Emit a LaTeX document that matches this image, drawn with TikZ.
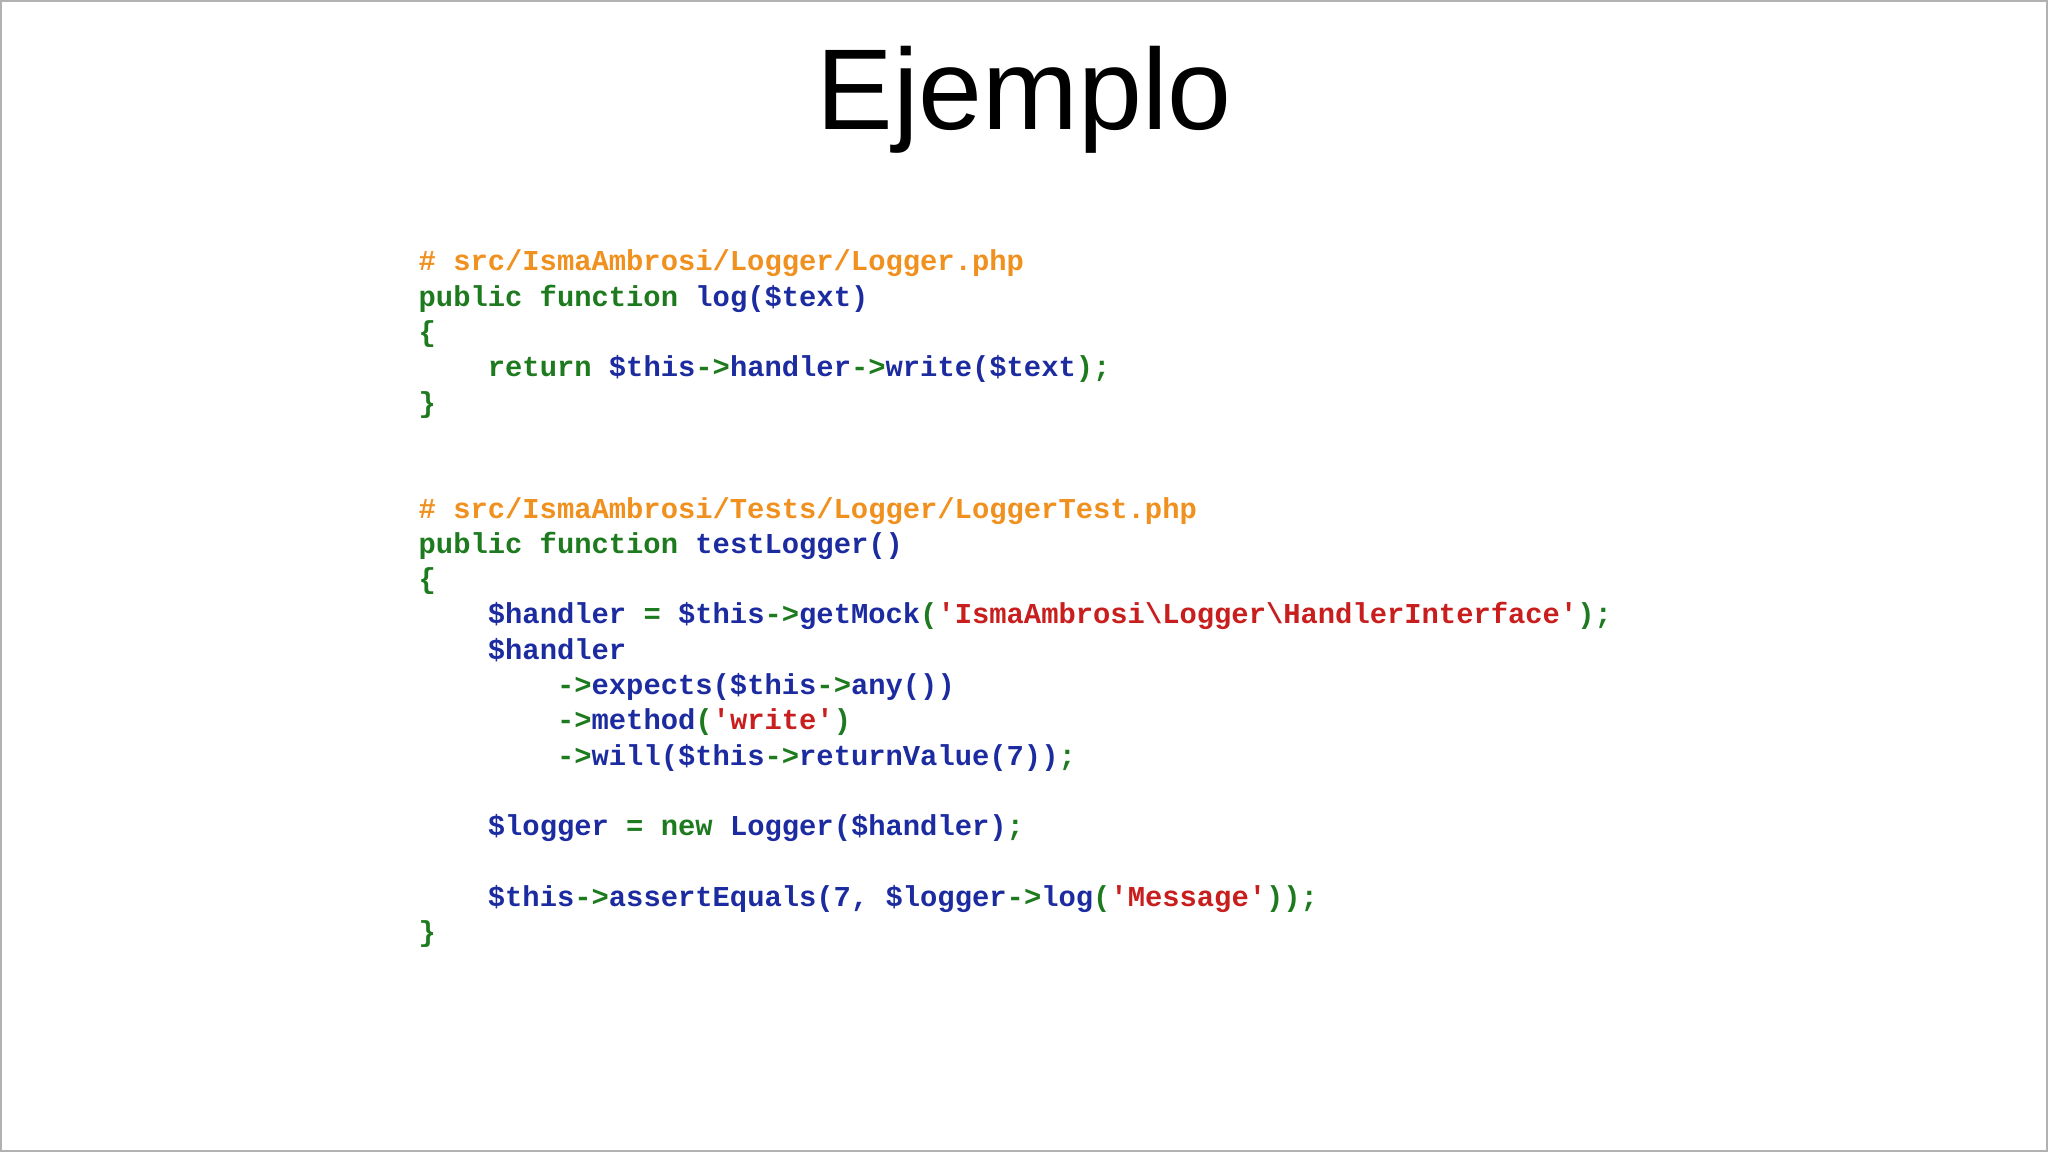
\documentclass[tikz,border=0pt]{standalone}
\usepackage{fontspec}
\setmainfont{Liberation Sans}
\setmonofont{Liberation Mono}
\definecolor{kor}{HTML}{F0901E}
\definecolor{kgr}{HTML}{1E7A1E}
\definecolor{kbl}{HTML}{1C2CA0}
\definecolor{krd}{HTML}{C81E1E}
\newcommand\kG[1]{\textcolor{kgr}{#1}}
\newcommand\kB[1]{\textcolor{kbl}{#1}}
\newcommand\kR[1]{\textcolor{krd}{#1}}
\newcommand\kO[1]{\textcolor{kor}{#1}}
\newcommand\dl{\$}
\begin{document}
\begin{tikzpicture}[x=1cm,y=1cm,
  code/.style={anchor=base west,inner sep=0pt,font=\ttfamily\bfseries\fontsize{8.2}{9}\selectfont}]
\useasboundingbox (0,0) rectangle (20.48,-11.52);
\draw[gray!60,line width=0.6pt] (0.01,-0.01) rectangle (20.47,-11.51);
\node[font=\fontsize{32.7}{36}\selectfont,anchor=base] (title) at (10.24,-1.30) {Ejemplo};
\def\Y#1{-2.71-#1*0.353}
\node[code] (l0) at (4.18,{\Y{0}}) {\kO{\# src/IsmaAmbrosi/Logger/Logger.php}};
\node[code] (l1) at (4.18,{\Y{1}}) {\kG{public function }\kB{log(\dl text)}};
\node[code] (l2) at (4.18,{\Y{2}}) {\kG{\{}};
\node[code] (l3) at (4.18,{\Y{3}}) {\kG{\ \ \ \ return }\kB{\dl this}\kG{->}\kB{handler}\kG{->}\kB{write(\dl text}\kG{);}};
\node[code] (l4) at (4.18,{\Y{4}}) {\kG{\}}};
\node[code] (l7) at (4.18,{\Y{7}}) {\kO{\# src/IsmaAmbrosi/Tests/Logger/LoggerTest.php}};
\node[code] (l8) at (4.18,{\Y{8}}) {\kG{public function }\kB{testLogger()}};
\node[code] (l9) at (4.18,{\Y{9}}) {\kG{\{}};
\node[code] (l10) at (4.18,{\Y{10}}) {\kB{\ \ \ \ \dl handler }\kG{= }\kB{\dl this}\kG{->}\kB{getMock}\kG{(}\kR{'IsmaAmbrosi\textbackslash Logger\textbackslash HandlerInterface'}\kG{);}};
\node[code] (l11) at (4.18,{\Y{11}}) {\kB{\ \ \ \ \dl handler}};
\node[code] (l12) at (4.18,{\Y{12}}) {\kG{\ \ \ \ \ \ \ \ ->}\kB{expects(\dl this}\kG{->}\kB{any())}};
\node[code] (l13) at (4.18,{\Y{13}}) {\kG{\ \ \ \ \ \ \ \ ->}\kB{method}\kG{(}\kR{'write'}\kG{)}};
\node[code] (l14) at (4.18,{\Y{14}}) {\kG{\ \ \ \ \ \ \ \ ->}\kB{will(\dl this}\kG{->}\kB{returnValue(7))}\kG{;}};
\node[code] (l16) at (4.18,{\Y{16}}) {\kB{\ \ \ \ \dl logger }\kG{= new }\kB{Logger(\dl handler)}\kG{;}};
\node[code] (l18) at (4.18,{\Y{18}}) {\kB{\ \ \ \ \dl this}\kG{->}\kB{assertEquals(7, \dl logger}\kG{->}\kB{log}\kG{(}\kR{'Message'}\kG{));}};
\node[code] (l19) at (4.18,{\Y{19}}) {\kG{\}}};
\end{tikzpicture}
\end{document}
